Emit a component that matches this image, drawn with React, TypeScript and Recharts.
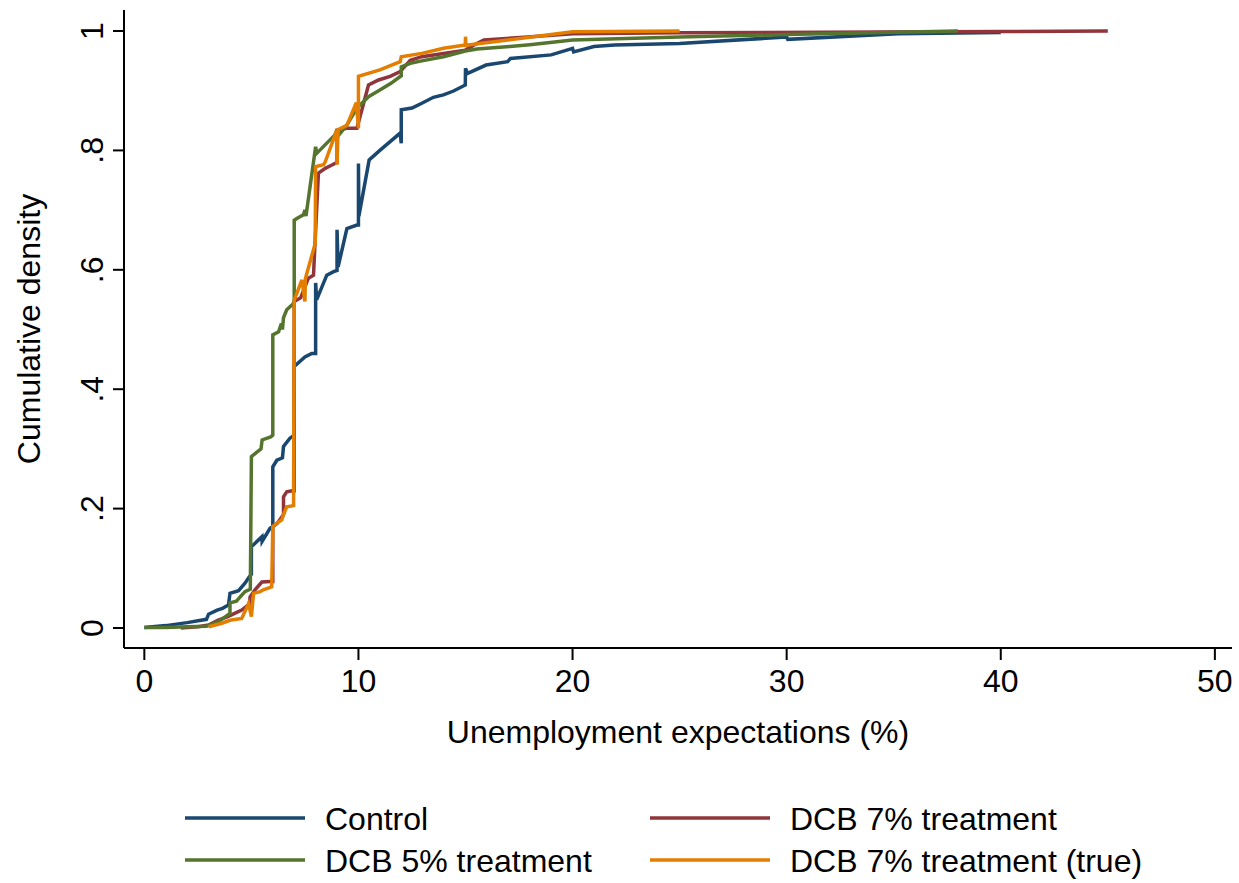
import React from "react";
import { LineChart, Line, XAxis, YAxis, Legend } from "recharts";

// ---- data ----
const controlX = [0, 1, 2, 2.9, 3, 3.4, 3.65, 3.93, 4, 4.4, 4.7, 4.87, 5, 5, 5.49, 5.5, 5.87, 6, 6, 6.19, 6.45, 6.5, 6.8, 7, 7, 7.5, 7.82, 8, 8, 8.05, 8.52, 8.84, 9, 9, 9.05, 9.46, 9.93, 10, 10, 10.02, 10.5, 11, 11.95, 12, 12, 12.5, 12.96, 13.5, 13.97, 14.44, 14.99, 15, 15.1, 15.96, 16.97, 17.1, 19, 20, 20.05, 21, 21.95, 25, 30, 30.05, 35.2, 40];
const controlY = [0.001, 0.004, 0.009, 0.0145, 0.023, 0.03, 0.033, 0.0385, 0.058, 0.0625, 0.075, 0.084, 0.09, 0.136, 0.153, 0.145, 0.167, 0.17, 0.27, 0.281, 0.285, 0.304, 0.318, 0.323, 0.438, 0.454, 0.46, 0.46, 0.578, 0.55, 0.591, 0.597, 0.599, 0.667, 0.605, 0.669, 0.675, 0.675, 0.778, 0.69, 0.784, 0.8, 0.829, 0.812, 0.868, 0.871, 0.879, 0.889, 0.893, 0.8995, 0.9095, 0.9375, 0.929, 0.943, 0.9486, 0.954, 0.96, 0.971, 0.965, 0.974, 0.9765, 0.979, 0.99, 0.986, 0.9956, 0.9975];

const dcb7X = [1.7, 2.5, 3, 3.45, 3.9, 4.24, 4.55, 4.9, 4.94, 5.17, 5.49, 5.87, 6, 6, 6.2, 6.42, 6.5, 6.5, 6.65, 6.9, 7, 7, 7.3, 7.66, 7.9, 8.13, 8.45, 8.76, 9, 9, 9.46, 9.93, 10.47, 10.94, 11.48, 11.95, 12.42, 12.96, 13.97, 14.99, 15.53, 15.86, 17.9, 20, 25, 40, 45];
const dcb7Y = [0, 0.002, 0.005, 0.0134, 0.019, 0.025, 0.03, 0.04, 0.052, 0.064, 0.077, 0.078, 0.078, 0.17, 0.175, 0.186, 0.19, 0.22, 0.228, 0.23, 0.23, 0.547, 0.553, 0.586, 0.591, 0.762, 0.77, 0.7755, 0.78, 0.834, 0.837, 0.837, 0.9095, 0.918, 0.924, 0.932, 0.951, 0.957, 0.9625, 0.968, 0.979, 0.985, 0.99, 0.9956, 0.997, 0.999, 1.0];

const dcb5X = [0, 1, 2, 2.9, 3.46, 4, 4, 4.3, 4.55, 4.7, 4.95, 5, 5.2, 5.45, 5.5, 5.9, 6, 6, 6.27, 6.4, 6.45, 6.5, 6.65, 6.89, 7, 7, 7.12, 7.43, 7.5, 7.55, 8, 8.05, 8.9, 9, 9, 9.46, 9.93, 10.47, 11, 11.5, 12, 12, 12.42, 12.96, 13.97, 14.99, 15.53, 17.07, 18, 20, 25, 30, 38];
const dcb5Y = [0.001, 0.001, 0.002, 0.003, 0.0106, 0.0246, 0.042, 0.045, 0.055, 0.061, 0.065, 0.287, 0.293, 0.3, 0.315, 0.32, 0.323, 0.491, 0.496, 0.51, 0.5, 0.52, 0.533, 0.541, 0.545, 0.683, 0.686, 0.692, 0.7, 0.69, 0.806, 0.795, 0.826, 0.835, 0.822, 0.8425, 0.871, 0.89, 0.901, 0.912, 0.925, 0.94, 0.946, 0.95, 0.957, 0.9665, 0.97, 0.974, 0.977, 0.985, 0.99, 0.994, 1.0];

const trueX = [3, 3.62, 4, 4.55, 4.87, 5, 5.1, 5.41, 5.56, 5.95, 6, 6.2, 6.42, 6.5, 6.65, 6.97, 7, 7.36, 7.5, 7.52, 7.98, 8, 8.37, 8.45, 8.99, 9, 9.05, 9.46, 9.9, 10, 10, 11, 11.95, 12, 12.96, 13.97, 14.99, 15, 15.02, 20, 25];
const trueY = [0.002, 0.008, 0.013, 0.016, 0.041, 0.019, 0.058, 0.061, 0.064, 0.069, 0.17, 0.176, 0.181, 0.19, 0.203, 0.205, 0.549, 0.583, 0.547, 0.585, 0.644, 0.773, 0.776, 0.781, 0.834, 0.776, 0.835, 0.842, 0.88, 0.837, 0.924, 0.935, 0.9486, 0.957, 0.9625, 0.971, 0.9765, 0.9905, 0.976, 0.9986, 1.0];

const xTicks = [0, 10, 20, 30, 40, 50];
const yTicks = [0, 0.2, 0.4, 0.6, 0.8, 1];
const yTickLabels = ["0", ".2", ".4", ".6", ".8", "1"];

const seriesNames = ["Control", "DCB 7% treatment", "DCB 5% treatment", "DCB 7% treatment (true)"];
const seriesColors = ["#1a476f", "#90353b", "#55752f", "#e37e00"];

const zip = (xs: number[], ys: number[]) =>
  xs.slice(0, Math.min(xs.length, ys.length)).map((x, i) => ({ x, y: ys[i] }));

const seriesData = [
  zip(controlX, controlY),
  zip(dcb7X, dcb7Y),
  zip(dcb5X, dcb5Y),
  zip(trueX, trueY),
];

const FONT = "'Liberation Sans', Arial, Helvetica, sans-serif";
const FS = 32;

const YTick = (props: any) => {
  const { x, y, payload } = props;
  const idx = yTicks.findIndex((t) => Math.abs(t - payload.value) < 1e-9);
  const label = idx >= 0 ? yTickLabels[idx] : String(payload.value);
  const bx = x - 9.5;
  return (
    <text
      x={bx}
      y={y}
      transform={`rotate(-90, ${bx}, ${y})`}
      textAnchor="middle"
      fontFamily={FONT}
      fontSize={FS}
      fill="#000"
    >
      {label}
    </text>
  );
};

const XTick = (props: any) => {
  const { x, y, payload } = props;
  return (
    <text x={x} y={y + 32} textAnchor="middle" fontFamily={FONT} fontSize={FS} fill="#000">
      {payload.value}
    </text>
  );
};

const LegendContent = () => {
  const cols = [185, 650];
  const rows = [50, 92];
  return (
    <svg width={1239} height={115} style={{ display: "block" }}>
      {seriesNames.map((name, i) => {
        const c = cols[i % 2];
        const r = rows[Math.floor(i / 2)];
        return (
          <g key={name}>
            <line x1={c} x2={c + 120} y1={r} y2={r} stroke={seriesColors[i]} strokeWidth={3.5} />
            <text x={c + 140} y={r + 11.5} fontFamily={FONT} fontSize={FS} fill="#000">
              {name}
            </text>
          </g>
        );
      })}
    </svg>
  );
};

export default function App() {
  return (
    <div style={{ position: "absolute", left: 0, top: 0, width: 1239, height: 883, background: "#fff" }}>
      <LineChart width={1239} height={883} margin={{ top: 10, right: 7, bottom: 0, left: 0 }}>
        <XAxis
          type="number"
          dataKey="x"
          domain={[-0.95, 50.8]}
          ticks={xTicks}
          allowDataOverflow
          height={120}
          tickSize={12}
          tickMargin={0}
          tick={<XTick />}
          axisLine={{ stroke: "#000", strokeWidth: 2 }}
          tickLine={{ stroke: "#000", strokeWidth: 2 }}
          label={{
            content: (p: any) => {
              const vb = p.viewBox;
              return (
                <text x={vb.x + vb.width / 2} y={vb.y + 95} textAnchor="middle" fontFamily={FONT} fontSize={FS} fill="#000">
                  Unemployment expectations (%)
                </text>
              );
            },
          }}
        />
        <YAxis
          type="number"
          dataKey="y"
          domain={[-0.0335, 1.0352]}
          ticks={yTicks}
          allowDataOverflow
          width={124}
          tickSize={11}
          tickMargin={0}
          tick={<YTick />}
          axisLine={{ stroke: "#000", strokeWidth: 2 }}
          tickLine={{ stroke: "#000", strokeWidth: 2 }}
          label={{
            content: (p: any) => {
              const vb = p.viewBox;
              const cx = 40;
              const cy = vb.y + vb.height / 2;
              return (
                <text
                  x={cx}
                  y={cy}
                  transform={`rotate(-90, ${cx}, ${cy})`}
                  textAnchor="middle"
                  fontFamily={FONT}
                  fontSize={FS}
                  fill="#000"
                >
                  Cumulative density
                </text>
              );
            },
          }}
        />
        {seriesData.map((d, i) => (
          <Line
            key={seriesNames[i]}
            data={d}
            dataKey="y"
            name={seriesNames[i]}
            type="linear"
            stroke={seriesColors[i]}
            strokeWidth={3.5}
            dot={false}
            activeDot={false}
            isAnimationActive={false}
          />
        ))}
        <Legend
          verticalAlign="bottom"
          height={115}
          content={<LegendContent />}
          wrapperStyle={{ left: 0, bottom: 0, width: 1239, height: 115 }}
        />
      </LineChart>
    </div>
  );
}
